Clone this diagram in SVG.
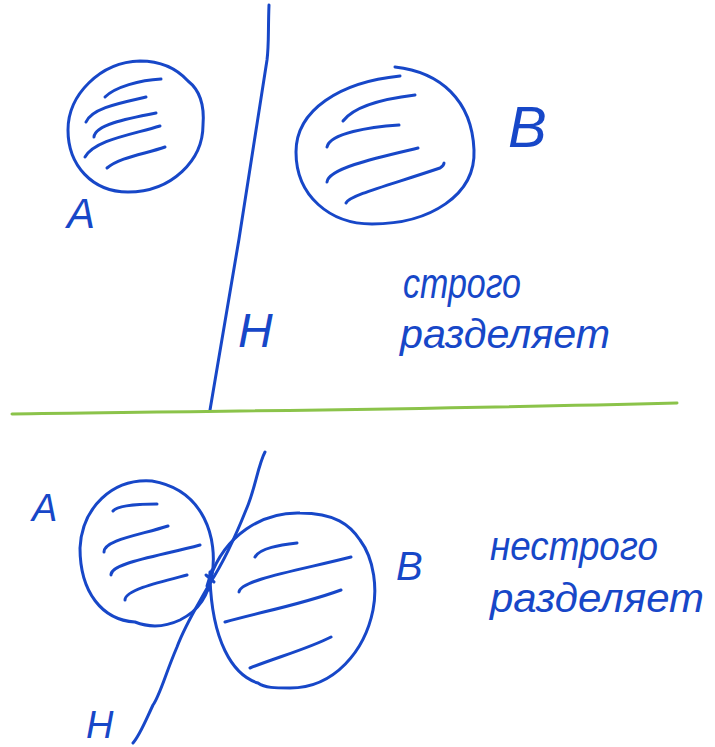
<svg xmlns="http://www.w3.org/2000/svg" width="715" height="747" viewBox="0 0 715 747">
<style>
.s{fill:none;stroke:#1747c8;stroke-width:3;stroke-linecap:round;stroke-linejoin:round}
.t{fill:#1747c8;font-family:"Liberation Sans",sans-serif;font-style:italic}
</style>
<rect width="715" height="747" fill="#ffffff"/>
<g id="top-A">
<path class="s" d="M188 81 C197 88,205 100,203 125 C203 160,172 192,128 192 C92 192,68 165,68 130 C68 95,100 62,140 61 C163 61,178 70,188 81 Z"/>
<path class="s" d="M105 97 C115 87,140 80,161 79 M86 122 C92 108,120 103,146 97 M94 137 C95 125,125 119,156 113 M85 157 C95 140,130 135,160 126 M107 168 C120 157,145 154,165 147"/>
<text class="t" x="67" y="228" font-size="42">A</text>
</g>
<g id="top-B">
<path class="s" d="M400 76 C340 82,296 110,296 152 C296 196,330 224,372 224 C430 224,476 195,474 150 C472 100,440 72,395 67"/>
<path class="s" d="M343 121 C355 105,390 98,415 95 M327 147 C330 133,370 127,399 125 M327 182 C328 168,380 157,418 148 M346 203 C350 195,390 185,440 168 C443 166,444 164,444 163"/>
<text class="t" x="508" y="147" font-size="58" font-style="normal">B</text>
</g>
<g id="top-H">
<path class="s" d="M269 5 C268 30,269 45,267 60 L239 239 L210 410"/>
<text class="t" x="238" y="347" font-size="48">H</text>
</g>
<g id="top-label">
<text class="t" x="403" y="298" font-size="42" textLength="118" lengthAdjust="spacingAndGlyphs">строго</text>
<text class="t" x="400" y="348" font-size="40" textLength="210" lengthAdjust="spacingAndGlyphs">разделяет</text>
</g>
<g id="divider">
<path d="M12 414 C150 412,400 410,677 403" fill="none" stroke="#8bc34a" stroke-width="3" stroke-linecap="round"/>
</g>
<g id="bottom-A">
<path class="s" d="M212 575 C218 540,205 490,152 481 C112 478,82 508,80 548 C80 592,102 620,135 622 C150 628,165 627,180 620 C200 610,208 595,212 575 Z"/>
<path class="s" d="M113 511 C118 505,140 504,157 504 M104 552 C104 540,140 535,168 526 M111 575 C110 563,160 556,200 545 M125 600 C125 590,160 582,187 575"/>
<text class="t" x="32" y="521" font-size="38">A</text>
</g>
<g id="bottom-B">
<path class="s" d="M210 578 C225 535,262 512,300 513 C335 513,350 525,360 540 C375 560,377 590,373 610 C365 650,335 688,290 688 C275 688,265 688,258 683 C232 675,212 640,210 578"/>
<path class="s" d="M255 557 C260 548,280 545,297 543 M239 592 C240 580,300 570,351 557 M225 622 C260 612,300 605,341 590 M250 668 C275 658,310 648,331 637"/>
<text class="t" x="396" y="580" font-size="40" font-style="normal">B</text>
</g>
<g id="bottom-H">
<path class="s" d="M265 452 C258 465,255 490,246 510 C238 530,225 560,210 583 C195 610,185 625,177 647 C165 675,160 695,153 705 C145 722,140 735,133 743"/>
<path class="s" d="M206 575 L214 582 M207 586 L212 570 M209 590 L210 572"/>
<text class="t" x="86" y="738" font-size="38" font-style="normal">H</text>
</g>
<g id="bottom-label">
<text class="t" x="490" y="560" font-size="40" textLength="168" lengthAdjust="spacingAndGlyphs">нестрого</text>
<text class="t" x="490" y="612" font-size="40" textLength="214" lengthAdjust="spacingAndGlyphs">разделяет</text>
</g>
</svg>
